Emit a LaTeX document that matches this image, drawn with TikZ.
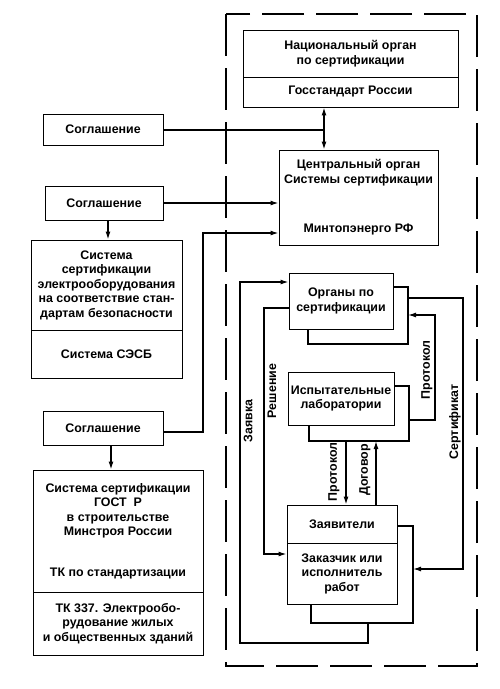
\documentclass[tikz,border=0pt]{standalone}
\usepackage{fontspec}
\setmainfont{Liberation Sans}
\usetikzlibrary{arrows.meta, positioning, calc}

\begin{document}
\begin{tikzpicture}[
    x=1pt, y=-1pt,
    every node/.style={font=\bfseries\fontsize{12.4}{14.5}\selectfont},
    box/.style={draw, rectangle, align=center, inner sep=0pt, line width=0.9pt},
    line/.style={draw, line width=1.3pt},
    flow/.style={line, -{Latex[length=8pt, width=5pt]}},
    tag/.style={rotate=90, inner sep=0pt},
    outerframe/.style={draw, line width=1.2pt, dash pattern=on 42pt off 12pt}
]
    \useasboundingbox[fill=white] (0,0) rectangle (500,689);

    % outer frame
    \draw[outerframe] (226,14) rectangle (477,666);

    % upper part
    \node[box, minimum width=215pt, minimum height=47pt] (Nat) at (350.5,53.5) {Национальный орган\\по сертификации};
    \node[box, minimum width=215pt, minimum height=30pt] (Gos) at (350.5,92) {Госстандарт России};
    \node[box, minimum width=159pt, minimum height=95pt] (Central) at (358.5,197.5) {Центральный орган\\Системы сертификации\\[35pt]Минтопэнерго РФ};

    % left column
    \node[box, minimum width=120pt, minimum height=31pt] (SoglA) at (103,129.5) {Соглашение};
    \node[box, minimum width=118pt, minimum height=34pt] (SoglB) at (104,203) {Соглашение};
    \node[box, minimum width=151pt, minimum height=90pt] (Sesb) at (106.5,285) {Система\\сертификации\\электрооборудования\\на соответствие стан-\\дартам безопасности};
    \node[box, minimum width=151pt, minimum height=48pt] (SesbName) at (106.5,354) {Система СЭСБ};
    \node[box, minimum width=120pt, minimum height=34pt] (SoglC) at (103,428) {Соглашение};
    \node[box, minimum width=170pt, minimum height=122pt] (Gost) at (118,531) {Система сертификации\\ГОСТ~~Р\\в строительстве\\Минстроя России\\[26pt]ТК по стандартизации};
    \node[box, minimum width=170pt, minimum height=63pt] (Tk) at (118,623.5) {ТК 337. Электрообо-\\рудование жилых\\и общественных зданий};

    % inner part
    \node[box, minimum width=104pt, minimum height=56pt] (Org) at (341,301) {Органы по\\сертификации};
    \node[box, minimum width=106pt, minimum height=53pt] (Lab) at (341,398.5) {Испытательные\\лаборатории};
    \node[box, minimum width=110pt, minimum height=38pt] (Zay) at (342,524) {Заявители};
    \node[box, minimum width=110pt, minimum height=61pt] (Zak) at (342,573.5) {Заказчик или\\исполнитель\\работ};

    % helper points
    \coordinate (Axis) at (324,0);
    \coordinate (DropA) at (108,0);
    \coordinate (DropB) at (111,0);
    \coordinate (LinkA) at (203,432);
    \coordinate (LinkB) at (203,233);
    \coordinate (OrgOut) at (408,287);
    \coordinate (OrgR) at (408,344);
    \coordinate (OrgL) at (308,344);
    \coordinate (LabOut) at (409,386);
    \coordinate (LabR) at (409,441);
    \coordinate (LabL) at (309,441);
    \coordinate (ZayOut) at (413,526);
    \coordinate (ZayR) at (413,623);
    \coordinate (ZayL) at (311,623);
    \coordinate (ProtA) at (435,420);
    \coordinate (ProtB) at (435,315);
    \coordinate (ProtC) at (346,441);
    \coordinate (DealA) at (376,441);
    \coordinate (CertA) at (463,298);
    \coordinate (CertB) at (463,569);
    \coordinate (ReqA) at (368,643);
    \coordinate (ReqB) at (240,643);
    \coordinate (ReqC) at (240,282);
    \coordinate (DecA) at (264,308);
    \coordinate (DecB) at (264,554);

    % connectors on the left
    \draw[line, {Latex[length=8pt, width=5pt]}-{Latex[length=8pt, width=5pt]}] (Gos.south -| Axis) -- (Central.north -| Axis);
    \draw[line, line width=2pt] (SoglA.east) -- (SoglA.east -| Axis);
    \draw[flow] (SoglB.east) -- (Central.west |- SoglB.east);
    \draw[flow] (SoglC.east |- LinkA) -- (LinkA) -- (LinkB) -- (Central.west |- LinkB);
    \draw[flow] (SoglB.south -| DropA) -- (Sesb.north -| DropA);
    \draw[flow] (SoglC.south -| DropB) -- (Gost.north -| DropB);

    % brackets
    \draw[line] (Org.east |- OrgOut) -- (OrgOut) -- (OrgR) -- (OrgL) -- (Org.south -| OrgL);
    \draw[line] (Lab.east |- LabOut) -- (LabOut) -- (LabR) -- (LabL) -- (Lab.south -| LabL);
    \draw[line] (Zay.east |- ZayOut) -- (ZayOut) -- (ZayR) -- (ZayL) -- (Zak.south -| ZayL);

    % connectors inside
    \draw[flow] (LabR |- ProtA) -- (ProtA) -- (ProtB) -- (OrgOut |- ProtB);
    \draw[flow] (OrgOut |- CertA) -- (CertA) -- (CertB) -- (ZayR |- CertB);
    \draw[flow] (ZayR -| ReqA) -- (ReqA) -- (ReqB) -- (ReqC) -- (Org.west |- ReqC);
    \draw[flow] (Org.west |- DecA) -- (DecA) -- (DecB) -- (Zak.west |- DecB);
    \draw[flow] (ProtC) -- (Zay.north -| ProtC);
    \draw[flow] (Zay.north -| DealA) -- (DealA);

    % labels
    \node[tag] (ProtRight) at (427,370) {Протокол};
    \node[tag] (CertTxt) at (455,422) {Сертификат};
    \node[tag] (ReqTxt) at (248,421) {Заявка};
    \node[tag] (DecTxt) at (272,391) {Решение};
    \node[tag] (ProtDown) at (334,472) {Протокол};
    \node[tag] (DealTxt) at (365,470) {Договор};
\end{tikzpicture}
\end{document}
